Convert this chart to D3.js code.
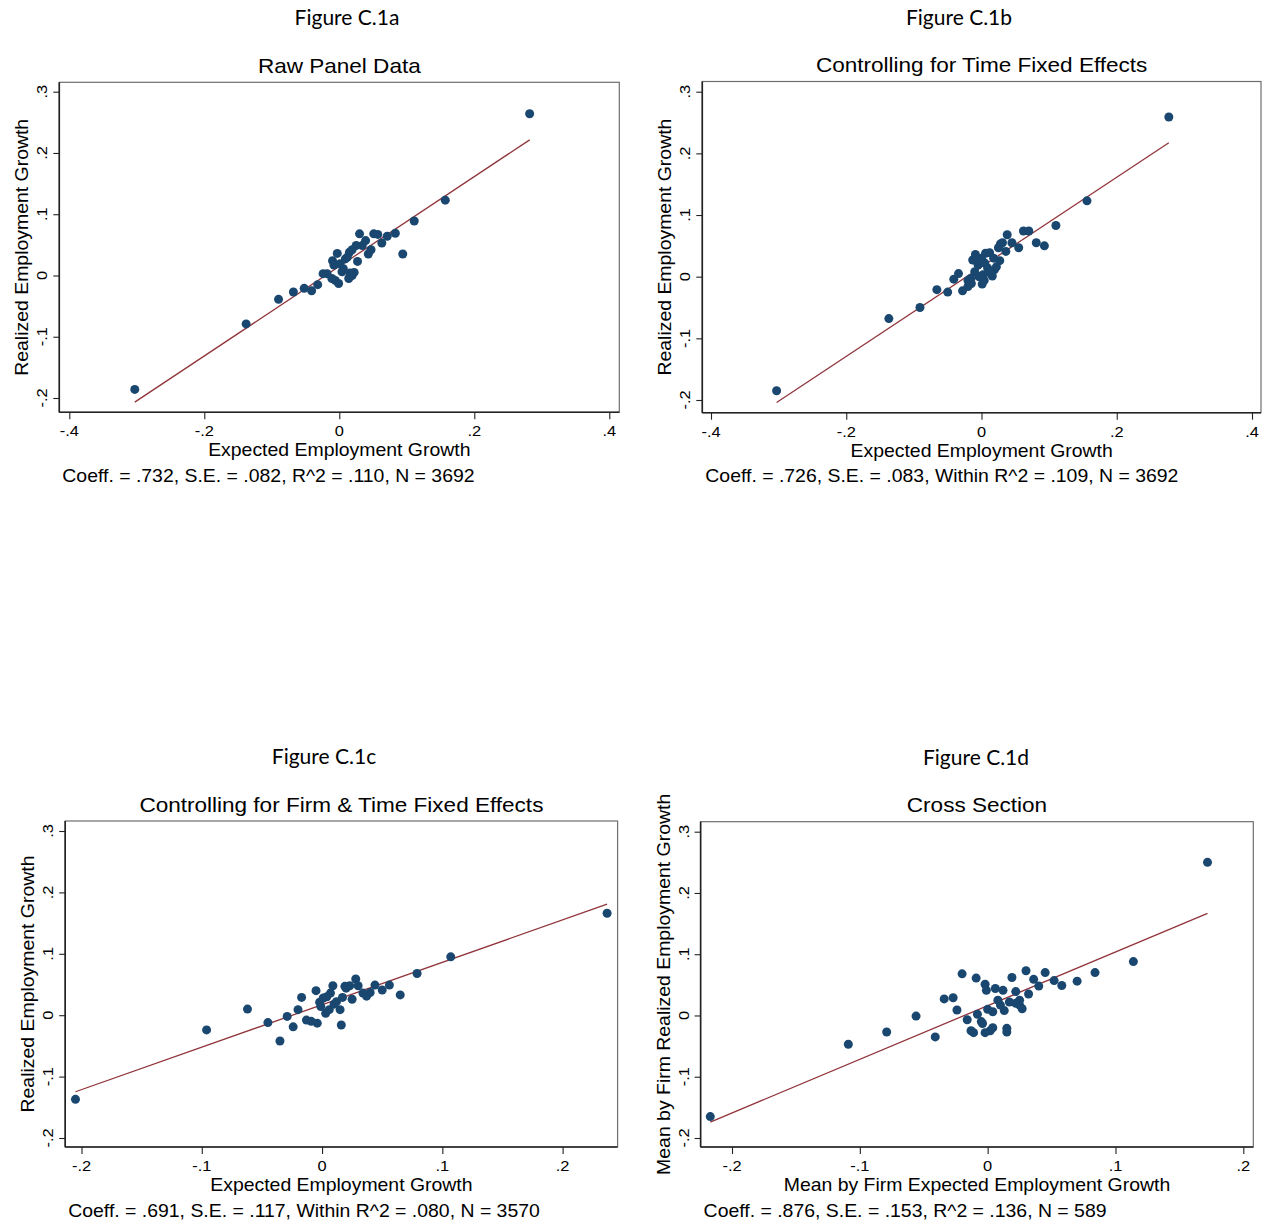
<!DOCTYPE html>
<html>
<head>
<meta charset="utf-8">
<script src="https://cdn.jsdelivr.net/npm/d3@7"></script>
<style>
  body { margin: 0; background: #fff; }
  svg { display: block; }
</style>
</head>
<body>
<svg id="chart" width="1262" height="1220"></svg>
<script>
// ---- Data: binned means of expected vs. realized employment growth ----
const rawExpected = [-0.303, -0.138, -0.090, -0.068, -0.052, -0.041, -0.032, -0.024, -0.018, -0.011,
  -0.006, -0.001, 0.014, 0.019, 0.022, -0.010, -0.003, 0.001, 0.009, 0.006,
  0.015, 0.019, 0.025, 0.027, 0.030, 0.039, 0.034, 0.043, 0.047, 0.051,
  0.057, 0.063, 0.071, 0.083, 0.094, 0.111, 0.157, 0.282, 0.004, 0.012, -0.008, 0.016];
const rawRealized = [-0.186, -0.079, -0.039, -0.027, -0.021, -0.025, -0.015, 0.003, 0.003, -0.005,
  -0.008, -0.013, -0.005, 0.000, 0.005, 0.024, 0.036, 0.019, 0.027, 0.011,
  0.038, 0.042, 0.049, 0.023, 0.068, 0.057, 0.049, 0.035, 0.042, 0.068,
  0.067, 0.053, 0.064, 0.069, 0.035, 0.089, 0.123, 0.264, 0.006, 0.030, 0.017, 0.004];

const timeFeExpected = [-0.303, -0.137, -0.091, -0.066, -0.050, -0.041, -0.034, -0.028, -0.020, -0.015,
  -0.020, -0.013, -0.009, -0.005, 0.000, 0.002, 0.001, 0.006, 0.012, 0.009,
  0.016, 0.019, 0.022, 0.027, 0.025, 0.031, 0.036, 0.038, 0.045, 0.055,
  0.062, 0.070, 0.081, 0.093, 0.110, 0.156, 0.277, -0.010, -0.004, 0.005,
  -0.007, 0.013, 0.004, -0.016, 0.028, 0.018];
const timeFeRealized = [-0.185, -0.068, -0.050, -0.021, -0.025, -0.004, 0.005, -0.023, -0.016, -0.011,
  -0.006, 0.027, 0.036, 0.019, 0.030, 0.003, -0.012, 0.038, 0.039, 0.014,
  0.001, 0.011, 0.016, 0.026, 0.047, 0.055, 0.041, 0.068, 0.055, 0.047,
  0.074, 0.074, 0.055, 0.050, 0.083, 0.123, 0.259, 0.008, 0.000, 0.022,
  0.025, 0.006, -0.006, -0.003, 0.053, 0.030];

const firmTimeFeExpected = [-0.205, -0.096, -0.062, -0.045, -0.035, -0.029, -0.024, -0.020, -0.017, -0.013,
  -0.009, -0.004, -0.005, -0.002, 0.001, 0.003, 0.006, 0.007, 0.009, 0.012,
  0.015, 0.016, 0.017, 0.019, 0.023, 0.025, 0.028, 0.030, 0.034, 0.037,
  0.040, 0.044, 0.050, 0.056, 0.065, 0.079, 0.107, 0.237, 0.004, 0.010, 0.020, -0.001];
const firmTimeFeRealized = [-0.137, -0.024, 0.010, -0.012, -0.042, -0.002, -0.019, 0.009, 0.029, -0.008,
  -0.010, -0.013, 0.040, 0.021, 0.028, 0.003, 0.009, 0.036, 0.048, 0.022,
  0.009, -0.016, 0.029, 0.047, 0.048, 0.026, 0.059, 0.048, 0.036, 0.031,
  0.037, 0.049, 0.041, 0.049, 0.033, 0.068, 0.095, 0.166, 0.030, 0.018, 0.044, 0.014];

const crossExpected = [-0.217, -0.109, -0.079, -0.056, -0.041, -0.034, -0.027, -0.024, -0.020, -0.016,
  -0.013, -0.011, -0.009, -0.008, -0.005, -0.004, -0.002, -0.001, 0.000, -0.002,
  0.002, 0.004, 0.004, 0.006, 0.008, 0.010, 0.012, 0.013, 0.015, 0.015,
  0.017, 0.019, 0.022, 0.022, 0.025, 0.025, 0.027, 0.030, 0.032, 0.036,
  0.040, 0.045, 0.052, 0.058, 0.070, 0.084, 0.114, 0.172];
const crossRealized = [-0.165, -0.047, -0.027, -0.001, -0.035, 0.027, 0.029, 0.009, 0.068, -0.007,
  -0.025, -0.028, 0.061, 0.002, -0.010, -0.013, 0.051, 0.041, 0.010, -0.028,
  -0.025, -0.020, 0.006, 0.044, 0.025, 0.017, 0.041, 0.008, -0.021, -0.027,
  0.022, 0.062, 0.039, 0.020, 0.017, 0.025, 0.011, 0.073, 0.035, 0.059,
  0.048, 0.070, 0.057, 0.049, 0.056, 0.070, 0.088, 0.250];

// Fitted lines (slope = reported coefficient)
const fitSlopes = [0.732, 0.726, 0.691, 0.876];
const fitIntercepts = [0.015, 0.016, 0.017, 0.016];

// Axis ticks
const xTicksWide = [-0.4, -0.2, 0, 0.2, 0.4];
const xTicksNarrow = [-0.2, -0.1, 0, 0.1, 0.2];
const yTicks = [-0.2, -0.1, 0, 0.1, 0.2, 0.3];

// Text
const figureLabels = ["Figure C.1a", "Figure C.1b", "Figure C.1c", "Figure C.1d"];
const panelTitles = ["Raw Panel Data", "Controlling for Time Fixed Effects",
  "Controlling for Firm & Time Fixed Effects", "Cross Section"];
const xTitles = ["Expected Employment Growth", "Expected Employment Growth",
  "Expected Employment Growth", "Mean by Firm Expected Employment Growth"];
const yTitles = ["Realized Employment Growth", "Realized Employment Growth",
  "Realized Employment Growth", "Mean by Firm Realized Employment Growth"];
const notes = ["Coeff. = .732, S.E. = .082, R^2 = .110, N = 3692",
  "Coeff. = .726, S.E. = .083, Within R^2 = .109, N = 3692",
  "Coeff. = .691, S.E. = .117, Within R^2 = .080, N = 3570",
  "Coeff. = .876, S.E. = .153, R^2 = .136, N = 589"];

// ---- Layout ----
const panels = [
  { xs: rawExpected, ys: rawRealized, xTicks: xTicksWide,
    box: { l: 59.3, r: 619.3, t: 82.3, b: 412.3 }, xr: [69.3, 609.3], yr: [398, 91.7], figX: 347 },
  { xs: timeFeExpected, ys: timeFeRealized, xTicks: xTicksWide,
    box: { l: 702.3, r: 1261, t: 81.5, b: 412.7 }, xr: [711, 1252], yr: [400, 91.7], figX: 959 },
  { xs: firmTimeFeExpected, ys: firmTimeFeRealized, xTicks: xTicksNarrow,
    box: { l: 65.2, r: 617.6, t: 821, b: 1147 }, xr: [81.5, 562.6], yr: [1138, 831], figX: 324 },
  { xs: crossExpected, ys: crossRealized, xTicks: xTicksNarrow,
    box: { l: 700.6, r: 1253.3, t: 821.7, b: 1147 }, xr: [732, 1243.3], yr: [1138, 831.7], figX: 976 }
];

const NAVY = "#1a476f";
const MAROON = "#90353b";
const SANS = "'Liberation Sans', Arial, Helvetica, sans-serif";

const fmtTick = v => {
  if (v === 0) return "0";
  const s = Math.abs(+v.toFixed(1)).toString().replace(/^0/, "");
  return (v < 0 ? "-" : "") + s;
};

const svg = d3.select("#chart");

// text helper: widen glyphs along the reading direction
function label(g, str, x, y, opts) {
  const o = Object.assign({ size: 18, sx: 1.08, anchor: "start", rot: 0, family: SANS }, opts);
  return g.append("text")
    .attr("transform", `translate(${x},${y})` + (o.rot ? ` rotate(${o.rot})` : "") + ` scale(${o.sx},1)`)
    .attr("text-anchor", o.anchor)
    .attr("font-family", o.family)
    .attr("font-size", o.size)
    .attr("fill", "#000")
    .text(str);
}

panels.forEach((p, i) => {
  const g = svg.append("g");
  const { l, r, t, b } = p.box;
  const x = d3.scaleLinear().domain([p.xTicks[0], p.xTicks[p.xTicks.length - 1]]).range(p.xr);
  const y = d3.scaleLinear().domain([yTicks[0], yTicks[yTicks.length - 1]]).range(p.yr);
  const cx = (l + r) / 2, cy = (t + b) / 2;

  // plot region frame
  g.append("rect").attr("x", l).attr("y", t).attr("width", r - l).attr("height", b - t)
    .attr("fill", "#fff").attr("stroke", "#6e6e6e").attr("stroke-width", 1.2);

  // axes
  const xAxis = d3.axisBottom(x).tickValues(p.xTicks).tickSize(7).tickFormat(() => "");
  const gx = g.append("g").attr("transform", `translate(0,${b})`).call(xAxis);
  gx.select(".domain").attr("d", `M${l},0H${r}`).attr("stroke", "#222").attr("stroke-width", 1.6);
  gx.selectAll(".tick line").attr("stroke", "#222").attr("stroke-width", 1.1);

  const yAxis = d3.axisLeft(y).tickValues(yTicks).tickSize(6).tickFormat(() => "");
  const gy = g.append("g").attr("transform", `translate(${l},0)`).call(yAxis);
  gy.select(".domain").attr("d", `M0,${t}V${b}`).attr("stroke", "#222").attr("stroke-width", 1.6);
  gy.selectAll(".tick line").attr("stroke", "#222").attr("stroke-width", 1.1);

  // tick labels
  p.xTicks.forEach(v => label(g, fmtTick(v), x(v), b + 24, { size: 15.5, sx: 1.06, anchor: "middle" }));
  yTicks.forEach(v => label(g, fmtTick(v), l - 12, y(v), { size: 15.5, sx: 1.06, anchor: "middle", rot: -90 }));

  // titles
  label(g, figureLabels[i], p.figX, t - 57, { size: 21, sx: 1, anchor: "middle", family: "Lato, 'Open Sans', sans-serif" });
  label(g, panelTitles[i], cx, t - 9.5, { size: 20.5, sx: 1.1, anchor: "middle" });
  label(g, xTitles[i], cx, b + 44, { size: 18, sx: 1.08, anchor: "middle" });
  label(g, yTitles[i], l - 31, cy, { size: 18, sx: 1.08, anchor: "middle", rot: -90 });
  label(g, notes[i], l + 3, b + 69.5, { size: 18, sx: 1.08, anchor: "start" });

  // fitted line over the range of the data
  const [xmin, xmax] = d3.extent(p.xs);
  const fit = v => fitIntercepts[i] + fitSlopes[i] * v;
  g.append("line")
    .attr("x1", x(xmin)).attr("y1", y(fit(xmin)))
    .attr("x2", x(xmax)).attr("y2", y(fit(xmax)))
    .attr("stroke", MAROON).attr("stroke-width", 1.3);

  // binned points
  g.append("g").selectAll("circle")
    .data(p.xs.map((v, k) => [v, p.ys[k]]))
    .join("circle")
    .attr("cx", d => x(d[0]))
    .attr("cy", d => y(d[1]))
    .attr("r", 4.5)
    .attr("fill", NAVY);
});
</script>
</body>
</html>
